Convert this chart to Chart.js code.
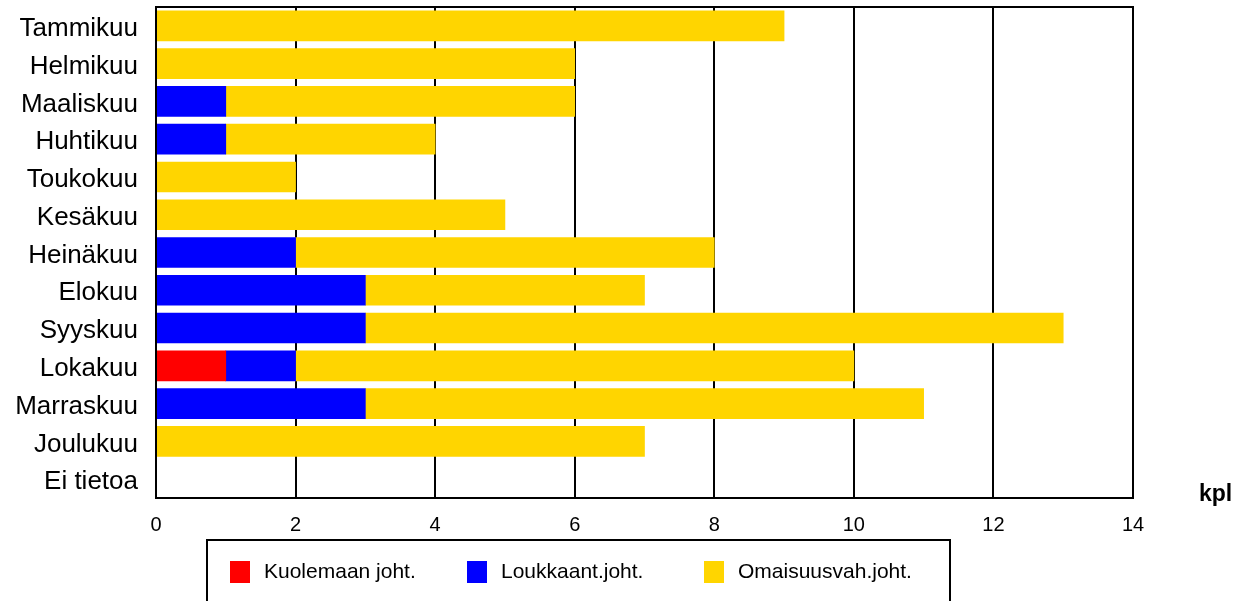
<!DOCTYPE html>
<html>
<head>
<meta charset="utf-8">
<script src="https://cdn.jsdelivr.net/npm/chart.js@4"></script>
<style>
html,body{margin:0;padding:0;background:#fff;}
canvas{display:block;}
</style>
</head>
<body>
<canvas id="c" width="1240" height="601"></canvas>
<script>
const categories = ["Tammikuu","Helmikuu","Maaliskuu","Huhtikuu","Toukokuu","Kesäkuu","Heinäkuu","Elokuu","Syyskuu","Lokakuu","Marraskuu","Joulukuu","Ei tietoa"];
const kuolemaan = [0,0,0,0,0,0,0,0,0,1,0,0,0];
const loukkaant = [0,0,1,1,0,0,2,3,3,1,3,0,0];
const omaisuus  = [9,6,5,3,2,5,6,4,10,8,8,7,0];
const seriesNames = ["Kuolemaan joht.","Loukkaant.joht.","Omaisuusvah.joht."];
const seriesColors = ["#ff0000","#0000ff","#ffd500"];
const xTicks = [0,2,4,6,8,10,12,14];
const unitLabel = "kpl";

const FONT = "'Liberation Sans', Arial, sans-serif";

const framePlugin = {
  id: 'frame',
  afterDraw(chart) {
    const ctx = chart.ctx;
    const a = chart.chartArea;
    ctx.save();
    ctx.strokeStyle = '#000';
    ctx.lineWidth = 2;
    ctx.strokeRect(a.left, a.top, a.right - a.left, a.bottom - a.top);
    ctx.fillStyle = '#000';
    ctx.font = "bold 23px " + FONT;
    ctx.textAlign = 'left';
    ctx.textBaseline = 'middle';
    ctx.fillText(unitLabel, 1199, 495);
    ctx.lineWidth = 2;
    ctx.strokeRect(207, 540, 743, 80);
    const sqX = [230, 467, 704];
    ctx.font = "21px " + FONT;
    chart.data.datasets.forEach((ds, i) => {
      ctx.fillStyle = ds.backgroundColor;
      ctx.fillRect(sqX[i], 561, 20, 22);
      ctx.fillStyle = '#000';
      ctx.fillText(ds.label, sqX[i] + 34, 572);
    });
    ctx.restore();
  }
};

new Chart(document.getElementById('c'), {
  type: 'bar',
  data: {
    labels: categories,
    datasets: [
      {label: seriesNames[0], data: kuolemaan, backgroundColor: seriesColors[0]},
      {label: seriesNames[1], data: loukkaant, backgroundColor: seriesColors[1]},
      {label: seriesNames[2], data: omaisuus, backgroundColor: seriesColors[2]}
    ]
  },
  options: {
    indexAxis: 'y',
    responsive: false,
    animation: false,
    devicePixelRatio: 1,
    datasets: { bar: { barThickness: 30, borderWidth: 0 } },
    layout: { padding: { top: 7, right: 107, left: 0, bottom: 0 } },
    plugins: { legend: { display: false }, tooltip: { enabled: false } },
    scales: {
      x: {
        stacked: true,
        min: 0, max: 14,
        afterBuildTicks(scale) { scale.ticks = xTicks.map(v => ({value: v})); },
        afterFit(scale) { scale.height = 103; scale.paddingLeft = 0; scale.paddingRight = 0; },
        grid: { color: '#000', lineWidth: 2, drawTicks: false },
        border: { color: '#000', width: 2 },
        ticks: { color: '#000', font: { family: FONT, size: 20 }, padding: 15 }
      },
      y: {
        stacked: true,
        afterFit(scale) { scale.width = 156; scale.paddingTop = 0; scale.paddingBottom = 0; },
        grid: { display: false, drawTicks: false },
        border: { color: '#000', width: 2 },
        ticks: { color: '#000', font: { family: FONT, size: 26 }, padding: 18, labelOffset: 3, autoSkip: false }
      }
    }
  },
  plugins: [framePlugin]
});
</script>
</body>
</html>
